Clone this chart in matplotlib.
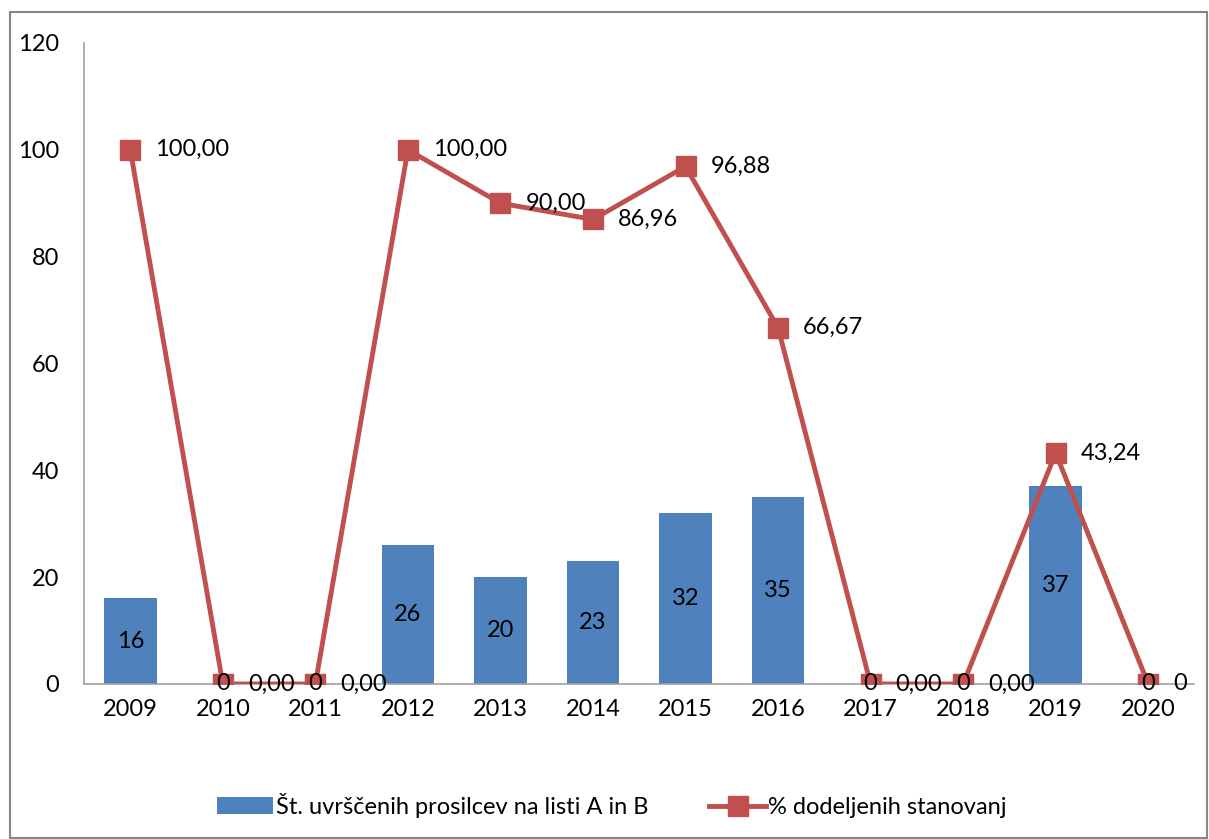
import matplotlib.pyplot as plt
from matplotlib.patches import Rectangle

years = ["2009", "2010", "2011", "2012", "2013", "2014", "2015", "2016", "2017", "2018", "2019", "2020"]
applicants = [16, 0, 0, 26, 20, 23, 32, 35, 0, 0, 37, 0]
pct_allocated = [100.00, 0.00, 0.00, 100.00, 90.00, 86.96, 96.88, 66.67, 0.00, 0.00, 43.24, 0]
pct_labels = ["100,00", "0,00", "0,00", "100,00", "90,00", "86,96", "96,88", "66,67", "0,00", "0,00", "43,24", "0"]

BLUE = "#4F81BD"
RED = "#C0504D"
FS = 17

plt.rcParams['font.family'] = ['Lato', 'DejaVu Sans']

fig = plt.figure(figsize=(12.09, 8.39), dpi=100)
ax = fig.add_axes([0.0695, 0.1848, 0.9185, 0.764])

x = list(range(len(years)))
bars = ax.bar(x, applicants, width=0.57, color=BLUE, zorder=2,
              label="Št. uvrščenih prosilcev na listi A in B")
line, = ax.plot(x, pct_allocated, color=RED, lw=3.5, marker='s', markersize=15,
                zorder=3, label="% dodeljenih stanovanj")

# bar values, centred in the bar
for xi, v in zip(x, applicants):
    ax.text(xi, v / 2, str(v), ha='center', va='center', fontsize=FS, zorder=5)

# line values, to the right of each marker
for xi, v, lab in zip(x, pct_allocated, pct_labels):
    ax.annotate(lab, (xi, v), xytext=(18, 0), textcoords='offset points',
                ha='left', va='center', fontsize=FS, zorder=5)

ax.set_xlim(-0.5, len(years) - 0.5)
ax.set_ylim(0, 120)
ax.set_yticks(range(0, 121, 20))
ax.set_xticks(x)
ax.set_xticklabels(years)
ax.tick_params(axis='both', length=0, labelsize=FS)
ax.tick_params(axis='y', pad=18)
ax.tick_params(axis='x', pad=11)

for s in ['top', 'right']:
    ax.spines[s].set_visible(False)
ax.spines['left'].set_color('#A0A0A0')
ax.spines['bottom'].set_color('#A0A0A0')
ax.spines['left'].set_linewidth(1.2)
ax.spines['bottom'].set_linewidth(1.2)

fig.legend(handles=[bars, line], loc='center', bbox_to_anchor=(0.506, 0.04),
           ncol=2, frameon=False, fontsize=FS, handlelength=2.4,
           handletextpad=0.1, columnspacing=2.6)

# outer chart border
fig.patches.append(Rectangle((10 / 1209, 1 / 839), 1197 / 1209, 826 / 839,
                             transform=fig.transFigure, fill=False,
                             edgecolor='#868686', lw=1.5))

fig.savefig("out.png", dpi=100)
